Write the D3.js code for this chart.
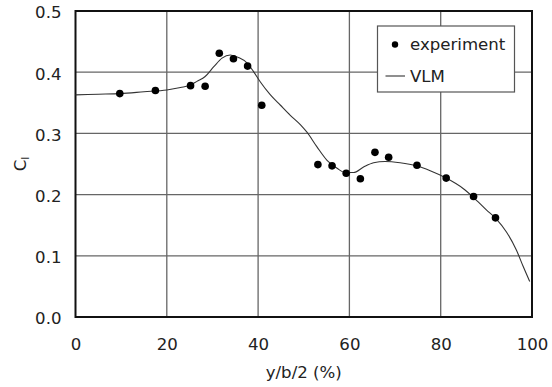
<!DOCTYPE html>
<html>
<head>
<meta charset="utf-8">
<script src="https://cdn.jsdelivr.net/npm/d3@7"></script>
<style>
  html, body { margin: 0; padding: 0; background: #fff; }
  svg { display: block; }
  text { font-family: "DejaVu Sans", Verdana, sans-serif; fill: #222; }
</style>
</head>
<body>
<svg id="chart" width="552" height="387"></svg>
<script>
// Experiment data: spanwise position (%) and section lift coefficient
const expX = [9.7, 17.5, 25.2, 28.4, 31.5, 34.6, 37.7, 40.8, 53.1, 56.2, 59.3, 62.4, 65.6, 68.6, 74.8, 81.2, 87.2, 92.0];
const expY = [0.365, 0.370, 0.378, 0.377, 0.431, 0.422, 0.410, 0.346, 0.249, 0.247, 0.235, 0.226, 0.269, 0.261, 0.248, 0.227, 0.197, 0.162];

// VLM curve
const vlmX = [0.0, 5, 9.8, 15, 20, 23, 25.2, 26.6, 28.4, 30.3, 32.1, 33.9, 35.7, 37.6, 39.0, 40.5, 42.7, 44.9, 47.0, 49.3, 50.7, 52.9, 55.1, 57.3, 59.1, 60.9, 63.1, 65.3, 67.8, 71.1, 74.7, 77.7, 81.2, 84.9, 87.1, 90.0, 92.2, 94.4, 96.6, 98.1, 99.5];
const vlmY = [0.363, 0.364, 0.365, 0.368, 0.371, 0.375, 0.379, 0.385, 0.393, 0.409, 0.423, 0.428, 0.424, 0.415, 0.401, 0.384, 0.363, 0.346, 0.330, 0.314, 0.302, 0.278, 0.256, 0.243, 0.236, 0.236, 0.245, 0.252, 0.254, 0.252, 0.247, 0.239, 0.227, 0.210, 0.196, 0.175, 0.160, 0.139, 0.109, 0.082, 0.058];

const xTicks = [0, 20, 40, 60, 80, 100];
const yTicks = [0.0, 0.1, 0.2, 0.3, 0.4, 0.5];
const xLabel = "y/b/2 (%)";
const legendLabels = ["experiment", "VLM"];

const svg = d3.select("#chart");
const m = { left: 75.5, right: 532, top: 11, bottom: 317 };
const fs = "16.6px";

const x = d3.scaleLinear().domain([0, 100]).range([m.left, m.right]);
const y = d3.scaleLinear().domain([0, 0.5]).range([m.bottom, m.top]);

// grid
const grid = svg.append("g");
grid.selectAll("line.gx").data(xTicks.slice(1, -1)).join("line")
  .attr("x1", d => x(d)).attr("x2", d => x(d))
  .attr("y1", m.top).attr("y2", m.bottom)
  .attr("stroke", "#666").attr("stroke-width", 1.3);
grid.selectAll("line.gy").data(yTicks.slice(1, -1)).join("line")
  .attr("x1", m.left).attr("x2", m.right)
  .attr("y1", d => y(d)).attr("y2", d => y(d))
  .attr("stroke", "#666").attr("stroke-width", 1.3);

// axes (labels only)
const xAxis = svg.append("g").attr("transform", `translate(0,${m.bottom})`)
  .call(d3.axisBottom(x).tickValues(xTicks).tickSize(0).tickPadding(21).tickFormat(d3.format("d")));
const yAxis = svg.append("g").attr("transform", `translate(${m.left},0)`)
  .call(d3.axisLeft(y).tickValues(yTicks).tickSize(0).tickPadding(14).tickFormat(d3.format(".1f")));
[xAxis, yAxis].forEach(a => {
  a.select(".domain").remove();
  a.selectAll("text").style("font-size", fs).attr("fill", "#222")
    .style("font-family", "'DejaVu Sans', Verdana, sans-serif");
});
yAxis.selectAll("text").attr("dy", "0.42em");

// frame
svg.append("rect")
  .attr("x", m.left).attr("y", m.top)
  .attr("width", m.right - m.left).attr("height", m.bottom - m.top)
  .attr("fill", "none").attr("stroke", "#111").attr("stroke-width", 2);

// VLM line
const vlm = vlmX.map((d, i) => [d, vlmY[i]]);
svg.append("path")
  .datum(vlm)
  .attr("fill", "none").attr("stroke", "#333").attr("stroke-width", 1.1)
  .attr("d", d3.line().x(d => x(d[0])).y(d => y(d[1])).curve(d3.curveMonotoneX));

// experiment points
svg.append("g").selectAll("circle").data(expX.map((d, i) => [d, expY[i]])).join("circle")
  .attr("cx", d => x(d[0])).attr("cy", d => y(d[1])).attr("r", 3.8).attr("fill", "#000");

// axis titles
svg.append("text")
  .attr("x", (m.left + m.right) / 2).attr("y", 378)
  .attr("text-anchor", "middle").style("font-size", fs)
  .text(xLabel);

const yt = svg.append("text")
  .attr("transform", `translate(26,${(m.top + m.bottom) / 2}) rotate(-90)`)
  .attr("text-anchor", "middle").style("font-size", fs);
yt.append("tspan").text("C");
yt.append("tspan").attr("dy", "0.25em").style("font-size", "11px").text("l");

// legend
const lg = svg.append("g");
lg.append("rect").attr("x", 377.5).attr("y", 26).attr("width", 137).attr("height", 66)
  .attr("fill", "#fff").attr("stroke", "#555").attr("stroke-width", 1.2);
lg.append("circle").attr("cx", 395).attr("cy", 44.5).attr("r", 3.2).attr("fill", "#000");
lg.append("line").attr("x1", 385.5).attr("x2", 405).attr("y1", 76).attr("y2", 76)
  .attr("stroke", "#333").attr("stroke-width", 1.1);
lg.selectAll("text").data(legendLabels).join("text")
  .attr("x", 410).attr("y", (d, i) => i === 0 ? 50 : 82)
  .style("font-size", fs).text(d => d);
</script>
</body>
</html>
